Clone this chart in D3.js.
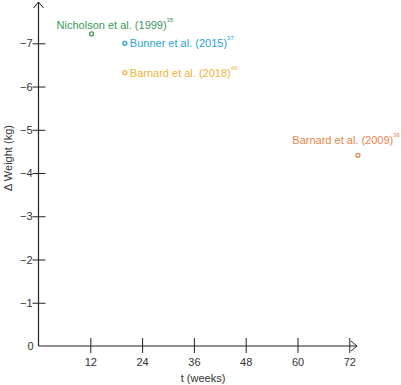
<!DOCTYPE html>
<html>
<head>
<meta charset="utf-8">
<script src="https://d3js.org/d3.v7.min.js"></script>
<style>
body { margin: 0; background: #fff; }
text { font-family: "Liberation Sans", Arial, sans-serif; }
</style>
</head>
<body>
<div id="chart"></div>
<script>
// study data
var studies = ["Nicholson et al. (1999)", "Bunner et al. (2015)", "Barnard et al. (2018)", "Barnard et al. (2009)"];
var refs = ["35", "37", "40", "36"];
var weeks = [12.3, 20, 20, 74];
var weightChange = [-7.22, -7.0, -6.32, -4.41];
var colors = ["#3a9a5a", "#2aa4d4", "#f0b23a", "#e8844a"];
var xTicks = [12, 24, 36, 48, 60, 72];
var yTicks = [0, -1, -2, -3, -4, -5, -6, -7];

var W = 401, H = 385;
var svg = d3.select("#chart").append("svg")
    .attr("width", W)
    .attr("height", H);

var x = d3.scaleLinear().domain([0, 72]).range([38.5, 349.3]);
var y = d3.scaleLinear().domain([0, -7]).range([346, 43.3]);

var axisColor = "#222";

// x axis
var xAxis = svg.append("g")
    .attr("transform", "translate(0," + y(0) + ")")
    .call(d3.axisBottom(x).tickValues(xTicks).tickSize(0).tickPadding(12));
xAxis.select(".domain").remove();
xAxis.selectAll(".tick").append("line")
    .attr("y1", -8).attr("y2", 7)
    .attr("stroke", axisColor).attr("stroke-width", 1);
xAxis.selectAll(".tick text")
    .attr("fill", "#333")
    .style("font-size", "11px")
    .style("font-family", "Liberation Sans, Arial, sans-serif");

// y axis
var yAxis = svg.append("g")
    .attr("transform", "translate(" + x(0) + ",0)")
    .call(d3.axisLeft(y).tickValues(yTicks).tickSize(0).tickPadding(6)
        .tickFormat(function(d) { return d === 0 ? "0" : "\u2212" + Math.abs(d); }));
yAxis.select(".domain").remove();
yAxis.selectAll(".tick").filter(function(d) { return d !== 0; }).append("line")
    .attr("x1", -6).attr("x2", 7)
    .attr("stroke", axisColor).attr("stroke-width", 1);
yAxis.selectAll(".tick").filter(function(d) { return d === 0; }).select("text")
    .attr("x", -5);
yAxis.selectAll(".tick").filter(function(d) { return d !== 0; }).select("text")
    .attr("x", -6);
yAxis.selectAll(".tick text")
    .attr("fill", "#333")
    .style("font-size", "11px")
    .style("font-family", "Liberation Sans, Arial, sans-serif");

// axis lines with arrows
svg.append("line")
    .attr("x1", x(0)).attr("y1", y(0))
    .attr("x2", 357).attr("y2", y(0))
    .attr("stroke", axisColor).attr("stroke-width", 1.2);
svg.append("path")
    .attr("d", "M" + 351 + "," + (y(0) - 5) + " L357," + y(0) + " L351," + (y(0) + 5))
    .attr("fill", "none").attr("stroke", axisColor).attr("stroke-width", 1);
svg.append("line")
    .attr("x1", x(0)).attr("y1", y(0))
    .attr("x2", x(0)).attr("y2", 2)
    .attr("stroke", axisColor).attr("stroke-width", 1.2);
svg.append("path")
    .attr("d", "M" + (x(0) - 5) + ",8 L" + x(0) + ",2 L" + (x(0) + 5) + ",8")
    .attr("fill", "none").attr("stroke", axisColor).attr("stroke-width", 1);

// axis titles
svg.append("text")
    .attr("x", 203).attr("y", 382)
    .attr("text-anchor", "middle")
    .attr("fill", "#333")
    .style("font-size", "11px")
    .text("t (weeks)");
svg.append("text")
    .attr("transform", "translate(12,158) rotate(-90)")
    .attr("text-anchor", "middle")
    .attr("fill", "#333")
    .style("font-size", "11px")
    .text("\u0394 Weight (kg)");

// points
var data = studies.map(function(s, i) {
  return {name: s, ref: refs[i], t: weeks[i], w: weightChange[i], c: colors[i]};
});

svg.selectAll(".pt")
    .data(data)
  .enter().append("circle")
    .attr("class", "pt")
    .attr("cx", function(d) { return x(d.t); })
    .attr("cy", function(d) { return y(d.w); })
    .attr("r", 2)
    .attr("fill", "none")
    .attr("stroke", function(d) { return d.c; })
    .attr("stroke-width", 1.3);

// labels, placed next to each point
var labelPos = [
  {dx: -35, dy: -5, anchor: "start"},
  {dx: 5, dy: 4, anchor: "start"},
  {dx: 5, dy: 4, anchor: "start"},
  {dx: 42, dy: -11, anchor: "end"}
];

var labels = svg.selectAll(".lab")
    .data(data)
  .enter().append("text")
    .attr("class", "lab")
    .attr("x", function(d, i) { return x(d.t) + labelPos[i].dx; })
    .attr("y", function(d, i) { return y(d.w) + labelPos[i].dy; })
    .attr("text-anchor", function(d, i) { return labelPos[i].anchor; })
    .attr("fill", function(d) { return d.c; })
    .style("font-size", "11px");
labels.append("tspan").text(function(d) { return d.name; });
labels.append("tspan")
    .attr("dy", -7)
    .style("font-size", "6px")
    .text(function(d) { return d.ref; });
</script>
</body>
</html>
